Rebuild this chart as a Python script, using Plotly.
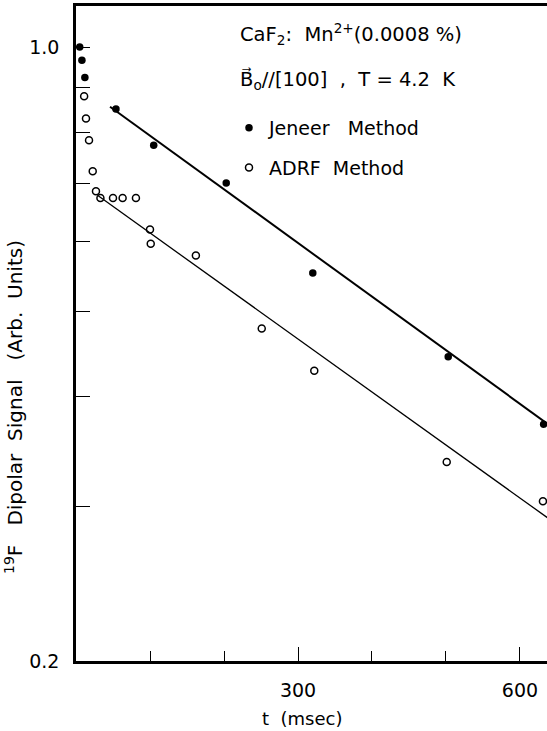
import plotly.graph_objects as go

# ---- data ----
jeneer_t = [5, 8, 12, 54, 105, 203, 320, 503, 632]
jeneer_s = [1.0, 0.966, 0.923, 0.850, 0.773, 0.700, 0.553, 0.444, 0.372]

adrf_t = [11, 13.5, 17.6, 22.6, 27, 33, 50, 63, 81, 100, 101, 162, 251, 322, 501, 631]
adrf_s = [0.879, 0.829, 0.783, 0.722, 0.685, 0.673, 0.673, 0.673, 0.673,
          0.620, 0.597, 0.579, 0.478, 0.428, 0.337, 0.304]

jeneer_fit_t = [46, 640]
jeneer_fit_s = [0.855, 0.371]
adrf_fit_t = [30, 640]
adrf_fit_s = [0.677, 0.290]

x_tickvals = [300, 600]
x_ticktext = ["300", "600"]
y_tickvals = [0.2, 0.3, 0.4, 0.5, 0.6, 0.7, 0.8, 0.9, 1.0]
y_ticktext = ["0.2", "", "", "", "", "", "", "", "1.0"]

FONT = "DejaVu Sans"
W, H = 547, 731
L, R, T, B = 76, 0, 6, 70
PW, PH = W - L - R, H - T - B


def px(xp):
    return (xp - L) / PW


def py(yp):
    return (H - B - yp) / PH


fig = go.Figure()
fig.add_trace(go.Scatter(x=jeneer_fit_t, y=jeneer_fit_s, mode="lines",
                         line=dict(color="black", width=2), showlegend=False,
                         hoverinfo="skip"))
fig.add_trace(go.Scatter(x=adrf_fit_t, y=adrf_fit_s, mode="lines",
                         line=dict(color="black", width=1.3), showlegend=False,
                         hoverinfo="skip"))
fig.add_trace(go.Scatter(x=jeneer_t, y=jeneer_s, mode="markers",
                         name="Jeneer   Method", legendgroup="a",
                         marker=dict(symbol="circle", size=7.5, color="black")))
fig.add_trace(go.Scatter(x=adrf_t, y=adrf_s, mode="markers",
                         name="ADRF  Method", legendgroup="b",
                         marker=dict(symbol="circle-open", size=7, color="black",
                                     line=dict(width=1.5, color="black"))))

fig.update_layout(
    width=W, height=H,
    margin=dict(l=L, r=R, t=T, b=B),
    paper_bgcolor="white", plot_bgcolor="white",
    font=dict(family=FONT, color="black", size=18),
    showlegend=True,
    legend=dict(x=px(229), y=py(109), xanchor="left", yanchor="top",
                font=dict(size=19, family=FONT), tracegroupgap=12,
                bgcolor="rgba(0,0,0,0)", itemsizing="trace"),
    xaxis=dict(range=[0, 636.5], tickvals=x_tickvals, ticktext=x_ticktext,
               ticks="inside", ticklen=14, tickwidth=1, tickcolor="black",
               showline=True, linewidth=2.5, linecolor="black", mirror=True,
               showgrid=False, zeroline=False,
               tickfont=dict(size=19), ticklabelstandoff=10,
               minor=dict(dtick=100, tick0=0, ticks="inside", ticklen=10,
                          tickwidth=1, tickcolor="black", showgrid=False),
               title=dict(text="", font=dict(size=18))),
    yaxis=dict(type="log", range=[-0.69897, 0.0467],
               tickvals=y_tickvals, ticktext=y_ticktext,
               ticks="inside", ticklen=14, tickwidth=1, tickcolor="black",
               showline=True, linewidth=2.5, linecolor="black",
               showgrid=False, zeroline=False,
               tickfont=dict(size=19), ticklabelstandoff=10),
)

fig.add_annotation(x=px(302), y=py(718), xref="paper", yref="paper",
                   xanchor="center", yanchor="middle", showarrow=False,
                   text="t  (msec)", font=dict(size=18, family=FONT))
fig.add_annotation(x=px(14), y=py(407), xref="paper", yref="paper",
                   xanchor="center", yanchor="middle", showarrow=False,
                   textangle=-90,
                   text="<sup>19</sup>F   Dipolar  Signal   (Arb.  Units)",
                   font=dict(size=20, family=FONT))
fig.add_annotation(x=px(238), y=py(34), xref="paper", yref="paper",
                   xanchor="left", yanchor="middle", showarrow=False,
                   text="CaF<sub>2</sub>:  Mn<sup>2+</sup>(0.0008 %)",
                   font=dict(size=19.5, family=FONT))
fig.add_annotation(x=px(238), y=py(80), xref="paper", yref="paper",
                   xanchor="left", yanchor="middle", showarrow=False,
                   text="B\u20d7<sub>o</sub>//[100]  ,  T = 4.2  K",
                   font=dict(size=19.5, family=FONT))

fig.write_html("out.html")
